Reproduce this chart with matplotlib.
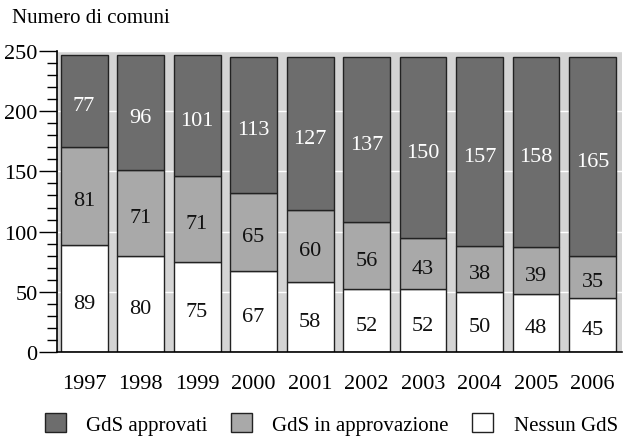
import matplotlib
matplotlib.use('Agg')
import matplotlib.pyplot as plt
import numpy as np
from matplotlib.ticker import MultipleLocator

plt.rcParams['font.family'] = ['Liberation Serif', 'DejaVu Serif']

years = ['1997', '1998', '1999', '2000', '2001', '2002', '2003', '2004', '2005', '2006']
nessun = [89, 80, 75, 67, 58, 52, 52, 50, 48, 45]
in_approvazione = [81, 71, 71, 65, 60, 56, 43, 38, 39, 35]
approvati = [77, 96, 101, 113, 127, 137, 150, 157, 158, 165]

c_dark = '#6d6d6d'
c_mid = '#a9a9a9'
c_bg = '#d4d4d4'

fig = plt.figure(figsize=(6.25, 4.39), dpi=100)
ax = fig.add_axes([0.0912, 0.196, 0.9038, 0.6855])
ax.set_facecolor(c_bg)

x = np.arange(len(years))
w = 0.83
b1 = np.array(nessun)
b2 = b1 + np.array(in_approvazione)

ax.bar(x, nessun, w, color='white', edgecolor='#222222', linewidth=1, zorder=2,
       label='Nessun GdS')
ax.bar(x, in_approvazione, w, bottom=b1, color=c_mid, edgecolor='#222222', linewidth=1,
       zorder=2, label='GdS in approvazione')
ax.bar(x, approvati, w, bottom=b2, color=c_dark, edgecolor='#222222', linewidth=1,
       zorder=2, label='GdS approvati')

for i in range(len(years)):
    ax.text(x[i], nessun[i] / 2 - 4, str(nessun[i]), ha='center', va='center',
            fontsize=16, color='#111111', zorder=3)
    ax.text(x[i], b1[i] + in_approvazione[i] / 2 - 4, str(in_approvazione[i]),
            ha='center', va='center', fontsize=16, color='#111111', zorder=3)
    ax.text(x[i], b2[i] + approvati[i] / 2 - 4, str(approvati[i]),
            ha='center', va='center', fontsize=16, color='white', zorder=3)

ax.set_xlim(-0.48, 9.52)
ax.set_ylim(0, 250)
ax.yaxis.set_major_locator(MultipleLocator(50))
ax.yaxis.set_minor_locator(MultipleLocator(10))
ax.grid(axis='y', color='white', linewidth=1, zorder=1)
ax.set_axisbelow(True)

ax.set_xticks(x)
ax.set_xticklabels(years, fontsize=16)
ax.tick_params(axis='x', length=0, pad=16)
ax.tick_params(axis='y', which='major', length=13, width=1, labelsize=16, pad=1)
ax.tick_params(axis='y', which='minor', length=7, width=1)
for s in ['top', 'right']:
    ax.spines[s].set_visible(False)
ax.spines['left'].set_linewidth(1.2)
ax.spines['bottom'].set_linewidth(1.2)

fig.text(0.019, 0.958, 'Numero di comuni', fontsize=15, ha='left', va='center')

handles, labels = ax.get_legend_handles_labels()
fig.legend(handles[::-1], labels[::-1], loc='center', bbox_to_anchor=(0.53, 0.032),
           ncol=3, frameon=False, fontsize=15, handlelength=1.0, handleheight=1.0,
           handletextpad=1.0, columnspacing=1.1)

fig.savefig('out.png', dpi=100)
